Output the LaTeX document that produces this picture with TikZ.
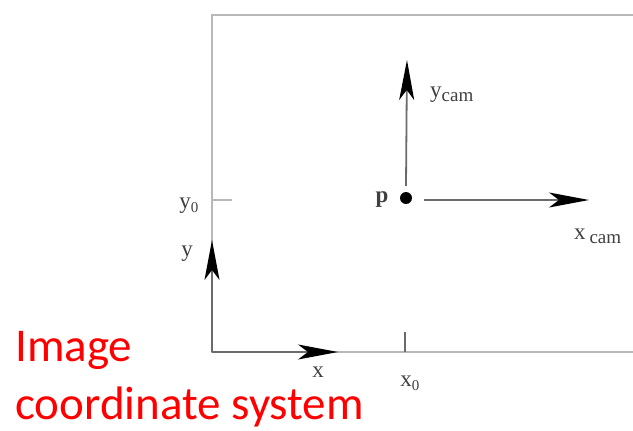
\documentclass[tikz,border=0pt]{standalone}
\usepackage{fontspec}
\setmainfont{Liberation Serif}
\newfontfamily\labelfont{Carlito}
\usetikzlibrary{arrows.meta}
\definecolor{framegray}{gray}{0.72}
\definecolor{axisgray}{gray}{0.42}
\definecolor{textgray}{gray}{0.25}
\tikzset{
  frameline/.style={framegray, line width=1.6pt},
  axisline/.style={axisgray, line width=1.8pt, -{Stealth[length=40pt,width=15pt,inset=10pt,black]}},
  lbl/.style={textgray, font=\fontsize{23}{24}\selectfont, inner sep=0pt},
  redlbl/.style={red, font=\labelfont\fontsize{47}{56}\selectfont, inner sep=0pt, anchor=west}
}
\begin{document}
\begin{tikzpicture}[x=1pt,y=-1pt]
\useasboundingbox (0,0) rectangle (633,431);
% frame
\coordinate (tl) at (212,15);
\coordinate (tr) at (640,15);
\coordinate (bl) at (212,352);
\coordinate (br) at (640,352);
\draw[frameline] (tr) -- (tl) -- (bl) -- (br);
% ticks
\coordinate (y0a) at (212,200);
\coordinate (y0b) at (232,200);
\draw[frameline] (y0a) -- (y0b);
\coordinate (x0a) at (405,352);
\coordinate (x0b) at (405,332);
\draw[axisgray, line width=1.2pt] (x0a) -- (x0b);
% image axes
\coordinate (o) at (212,352);
\coordinate (ytip) at (212,240);
\coordinate (xtip) at (338,352);
\draw[axisline] (o) -- (ytip);
\draw[axisline] (o) -- (xtip);
% camera point
\node[circle, fill=black, inner sep=0pt, minimum size=12pt] (p) at (406,198) {};
\coordinate (ycs) at (406,186);
\coordinate (yct) at (407,60);
\coordinate (xcs) at (424,200);
\coordinate (xct) at (589,200);
\draw[axisline] (ycs) -- (yct);
\draw[axisline] (xcs) -- (xct);
% labels
\node[lbl] (ly0) at (189,206) {y\textsubscript{\fontsize{15}{16}\selectfont 0}};
\node[lbl] (ly) at (187,254) {y};
\node[lbl] (lx) at (318,372) {x};
\node[lbl] (lx0) at (410,383) {x\textsubscript{\fontsize{15}{16}\selectfont 0}};
\node[lbl, font=\fontsize{23}{24}\selectfont\bfseries] (lp) at (382,200) {p};
\node[lbl, anchor=west] (lyc) at (430,95) {y\textsubscript{\fontsize{19}{20}\selectfont cam}};
\node[lbl, anchor=west] (lxc) at (574,236) {x\,\textsubscript{\fontsize{19}{20}\selectfont cam}};
\node[redlbl] (l1) at (15,350) {Image};
\node[redlbl] (l2) at (15,407) {coordinate system};
\end{tikzpicture}
\end{document}
